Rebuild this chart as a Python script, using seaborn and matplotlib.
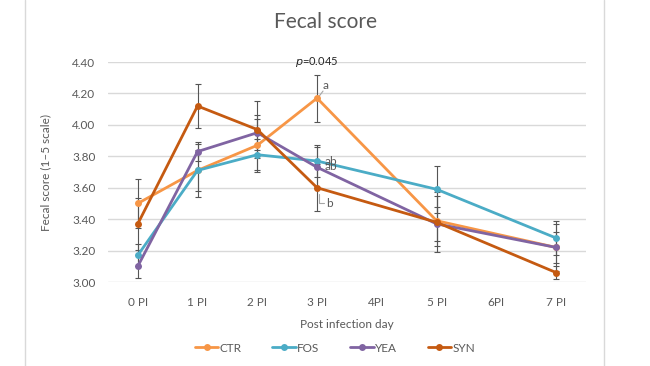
import pandas as pd
import matplotlib
matplotlib.use('Agg')
import matplotlib.pyplot as plt
import seaborn as sns
import numpy as np

sns.set_style('white')
plt.rcParams['font.family'] = ['Lato', 'DejaVu Sans']

# datos
day_labels = ['0 PI', '1 PI', '2 PI', '3 PI', '4PI', '5 PI', '6PI', '7 PI']
days = [0, 1, 2, 3, 5, 7]
groups = ['CTR', 'FOS', 'YEA', 'SYN']
ctr = [3.50, 3.71, 3.87, 4.17, 3.39, 3.22]
fos = [3.17, 3.71, 3.81, 3.77, 3.59, 3.28]
yea = [3.10, 3.83, 3.95, 3.73, 3.37, 3.22]
syn = [3.37, 4.12, 3.97, 3.60, 3.38, 3.06]
ctr_se = [0.155, 0.13, 0.17, 0.15, 0.16, 0.15]
fos_se = [0.07, 0.17, 0.10, 0.10, 0.15, 0.11]
yea_se = [0.075, 0.06, 0.11, 0.13, 0.11, 0.10]
syn_se = [0.165, 0.14, 0.18, 0.15, 0.19, 0.04]
colors = ['#F79646', '#4BACC6', '#8064A2', '#C55A11']

rows = []
for g, vals, se in zip(groups, [ctr, fos, yea, syn], [ctr_se, fos_se, yea_se, syn_se]):
    for d, v, s in zip(days, vals, se):
        rows.append({'Day': d, 'Score': v, 'SE': s, 'Group': g})
df = pd.DataFrame(rows)

fig = plt.figure(figsize=(6.5, 3.66), dpi=100)
ax = fig.add_axes([0.166, 0.2295, 0.7355, 0.6011])

# marco gris del grafico
for xf in [25 / 650, 604 / 650]:
    fig.add_artist(plt.Line2D([xf, xf], [0, 1], color='#d9d9d9', lw=1, transform=fig.transFigure))

gray = '#595959'
for g, c in zip(groups, colors):
    sub = df[df['Group'] == g]
    ax.errorbar(sub['Day'], sub['Score'], yerr=sub['SE'], fmt='none', ecolor='#555555',
                elinewidth=0.8, capsize=2.5, capthick=0.8, zorder=2)

sns.lineplot(data=df, x='Day', y='Score', hue='Group', palette=colors, marker='o',
             markersize=5, markeredgewidth=0, linewidth=2, ax=ax, zorder=3)

ax.set_xlim(-0.5, 7.5)
ax.set_ylim(3.0, 4.4)
ax.set_xticks(range(8))
ax.set_xticklabels(day_labels)
ax.set_yticks(np.arange(3.0, 4.41, 0.2))
ax.set_yticklabels([f'{v:.2f}' for v in np.arange(3.0, 4.41, 0.2)])
ax.tick_params(axis='both', length=0, labelsize=8.5, labelcolor=gray, pad=11)
ax.tick_params(axis='y', pad=9)
ax.grid(axis='y', color='#d9d9d9', lw=1)
for s in ax.spines.values():
    s.set_visible(False)

ax.set_xlabel('Post infection day', fontsize=8.5, color=gray, labelpad=8)
ax.set_ylabel('Fecal score (1\u20135 scale)', fontsize=8.5, color=gray, labelpad=15)
fig.text(0.5, 1 - 22 / 366, 'Fecal score', ha='center', va='center', fontsize=15, color=gray)

# anotaciones de significancia
ax.text(3, 4.40, '$\\it{p}$=0.045', ha='center', va='center', fontsize=8, color='#262626')
ax.text(3.1, 4.25, 'a', fontsize=8.5, color=gray, va='center')
ax.plot([3.02, 3.1], [4.175, 4.215], color='#a6a6a6', lw=0.8)
ax.text(3.12, 3.765, 'ab', fontsize=8.5, color=gray, va='center')
ax.text(3.12, 3.735, 'ab', fontsize=8.5, color=gray, va='center')
ax.text(3.15, 3.50, 'b', fontsize=8.5, color=gray, va='center')
ax.plot([3.04, 3.04, 3.11], [3.56, 3.505, 3.505], color='#a6a6a6', lw=0.8)

handles, labels = ax.get_legend_handles_labels()
ax.legend(handles, labels, loc='center', bbox_to_anchor=(0.475, -0.30), ncol=4, frameon=False,
          fontsize=8.5, labelcolor=gray, handlelength=2.0, handletextpad=0.1, columnspacing=2.6)

fig.savefig('out.png', dpi=100)
